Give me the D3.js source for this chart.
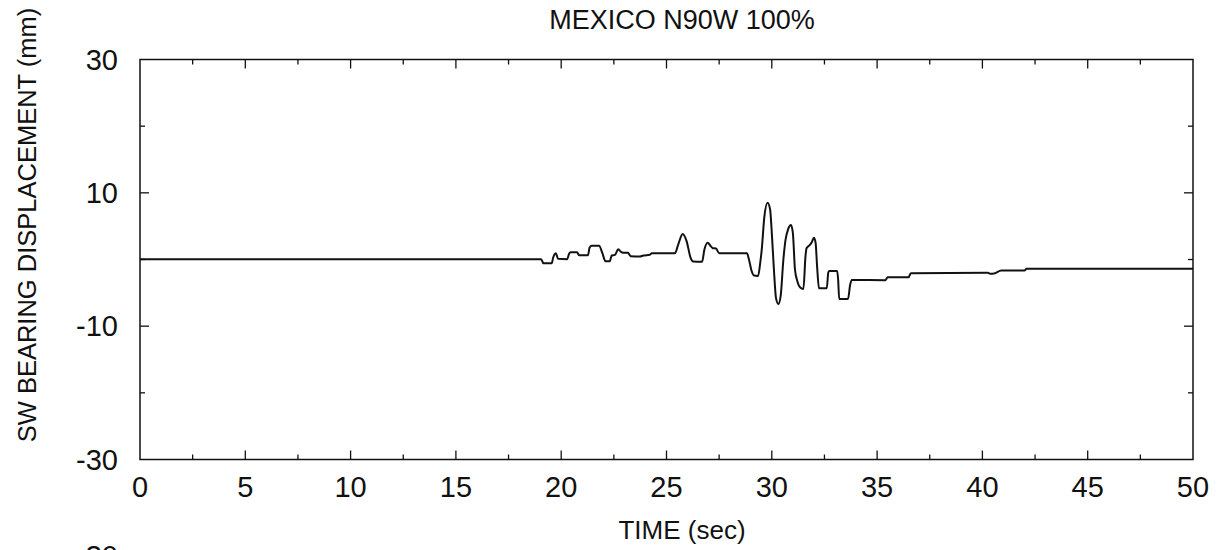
<!DOCTYPE html>
<html>
<head>
<meta charset="utf-8">
<script src="https://cdn.jsdelivr.net/npm/d3@7"></script>
<style>
  html, body { margin: 0; padding: 0; background: #fff; }
  svg { display: block; }
  text { font-family: "Liberation Sans", Arial, Helvetica, sans-serif; fill: #111; }
</style>
</head>
<body>
<svg id="chart" width="1226" height="550"></svg>
<script>
// ---- data ----
const titleText = "MEXICO N90W 100%";
const xLabel = "TIME (sec)";
const yLabel = "SW BEARING DISPLACEMENT (mm)";
const xTickLabels = [0, 5, 10, 15, 20, 25, 30, 35, 40, 45, 50];
const yTickLabels = [30, 10, -10, -30];
const time = [0, 19.05, 19.15, 19.55, 19.62, 19.75, 19.85, 20.28, 20.38, 20.45, 20.75, 20.85, 21.27, 21.35, 21.45, 21.8, 21.95, 22.1, 22.3, 22.4, 22.55, 22.71, 22.85, 22.95, 23.17, 23.3, 23.74, 23.9, 24.2, 24.3, 25.4, 25.55, 25.77, 25.95, 26.15, 26.27, 26.69, 26.8, 26.95, 27.1, 27.2, 27.35, 27.5, 28.82, 28.9, 29.05, 29.15, 29.35, 29.45, 29.52, 29.65, 29.8, 29.92, 30.0, 30.1, 30.2, 30.31, 30.42, 30.55, 30.65, 30.78, 30.91, 31.0, 31.1, 31.2, 31.35, 31.5, 31.6, 31.65, 31.8, 31.9, 32.0, 32.08, 32.15, 32.24, 32.61, 32.68, 32.72, 33.1, 33.15, 33.2, 33.62, 33.72, 33.8, 35.4, 35.5, 36.5, 36.6, 40.25, 40.4, 40.55, 40.9, 42.0, 42.1, 50];
const disp = [0.05, 0.05, -0.55, -0.55, 0.3, 0.93, 0.1, 0.05, 0.9, 1.08, 1.08, 0.65, 0.63, 1.8, 2.07, 2.07, 1.0, -0.25, -0.27, 0.6, 0.7, 1.53, 1.1, 1.02, 1.0, 0.5, 0.45, 0.6, 0.7, 0.93, 0.93, 2.2, 3.83, 2.8, 0.2, -0.3, -0.33, 1.5, 2.52, 2.0, 1.7, 1.65, 0.95, 0.93, 0.2, -1.8, -2.4, -2.47, -0.5, 1.4, 6.5, 8.52, 7.5, 4.0, -1.5, -5.8, -6.68, -5.5, 0, 2.9, 4.6, 5.18, 4.0, -1.5, -3.1, -4.2, -4.43, 0.5, 1.68, 2.17, 2.6, 3.27, 2.5, -1.0, -4.32, -4.32, -2.0, -1.72, -1.72, -3.0, -5.92, -5.92, -3.8, -3.07, -3.1, -2.65, -2.65, -2.05, -2.0, -2.15, -2.1, -1.65, -1.65, -1.4, -1.4];

// ---- layout ----
const svg = d3.select("#chart");
const pL = 140, pR = 1193, pT = 59.5, pB = 459.5;
const x = d3.scaleLinear().domain([0, 50]).range([pL, pR]);
const y = d3.scaleLinear().domain([-30, 30]).range([pB, pT]);

// frame
svg.append("rect")
  .attr("x", pL).attr("y", pT)
  .attr("width", pR - pL).attr("height", pB - pT)
  .attr("fill", "none").attr("stroke", "#111").attr("stroke-width", 1.5);

// x ticks (inward, bottom and top)
const g = svg.append("g").attr("stroke", "#111").attr("stroke-width", 1.3);
d3.range(2.5, 50, 2.5).forEach(t => {
  const len = (t % 5 === 0) ? 9 : 5;
  g.append("line").attr("x1", x(t)).attr("x2", x(t)).attr("y1", pB).attr("y2", pB - len);
  g.append("line").attr("x1", x(t)).attr("x2", x(t)).attr("y1", pT).attr("y2", pT + len);
});
// y ticks (inward, left and right)
d3.range(-20, 20.01, 10).forEach(v => {
  const len = (Math.abs(v) === 10) ? 9 : 5;
  g.append("line").attr("x1", pL).attr("x2", pL + len).attr("y1", y(v)).attr("y2", y(v));
  g.append("line").attr("x1", pR).attr("x2", pR - len).attr("y1", y(v)).attr("y2", y(v));
});

// tick labels
svg.append("g").selectAll("text").data(xTickLabels).join("text")
  .attr("x", d => x(d)).attr("y", 497)
  .attr("text-anchor", "middle").attr("font-size", 29)
  .text(d => d);
svg.append("g").selectAll("text").data(yTickLabels).join("text")
  .attr("x", 118).attr("y", d => y(d) + 10)
  .attr("text-anchor", "end").attr("font-size", 29)
  .text(d => d);

// titles
svg.append("text").attr("x", 682).attr("y", 29)
  .attr("text-anchor", "middle").attr("font-size", 27).text(titleText);
svg.append("text").attr("x", 682).attr("y", 539)
  .attr("text-anchor", "middle").attr("font-size", 26).text(xLabel);
svg.append("text")
  .attr("transform", "translate(36,225) rotate(-90)")
  .attr("text-anchor", "middle").attr("font-size", 25.5).text(yLabel);
// top of the label of the next panel below, cut by the page edge as in the reference
svg.append("text").attr("x", 118).attr("y", 566)
  .attr("text-anchor", "end").attr("font-size", 29).text("30");

// signal
const pts = time.map((t, i) => [t, disp[i]]);
const line = d3.line().x(d => x(d[0])).y(d => y(d[1])).curve(d3.curveMonotoneX);
svg.append("path").datum(pts)
  .attr("d", line).attr("fill", "none")
  .attr("stroke", "#111").attr("stroke-width", 2).attr("stroke-linejoin", "round");
</script>
</body>
</html>
